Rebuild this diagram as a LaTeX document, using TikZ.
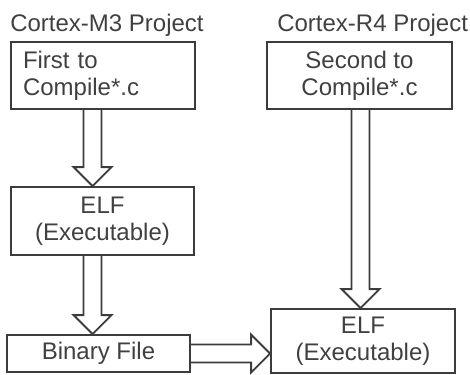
\documentclass[tikz,border=0pt]{standalone}
\usepackage{fontspec}
\setmainfont{Liberation Sans}
\usetikzlibrary{positioning, calc}
\definecolor{inkLine}{HTML}{3C3C3C}
\definecolor{inkText}{HTML}{404040}

\begin{document}
\begin{tikzpicture}[
  x=0.75pt, y=-0.75pt,
  title/.style={font=\fontsize{18}{20.25}\selectfont, text=inkText, inner sep=0pt},
  filebox/.style={draw=inkLine, line width=1.4pt, font=\fontsize{18}{20.25}\selectfont,
    text=inkText, inner sep=0pt, align=center},
  hollow/.style={draw=inkLine, line width=1.4pt, line join=miter}
]
  %% --- geometry of the hollow arrows ---
  \def\sh{6.75pt}   % half shaft width
  \def\hh{14.25pt}  % half head width
  \def\hl{14.25pt}  % head length

  \useasboundingbox (0,0) rectangle (470,374);

  %% --- project titles ---
  \node[title, anchor=base west] (m3title) at (10,32) {Cortex-M3 Project};
  \node[title, anchor=base west] (r4title) at (277,32) {Cortex-R4 Project};

  %% --- boxes ---
  \node[filebox, align=left, text width=120pt, inner xsep=9pt, minimum height=50.25pt]
    (m3src) at (103,75.5) {First to\\Compile*.c};
  \node[filebox, minimum width=137.25pt, minimum height=51pt]
    (m3elf) at (102.5,221) {ELF\\(Executable)};
  \node[filebox, minimum width=137.25pt, minimum height=27.75pt]
    (m3bin) at (98.5,353.5) {Binary File};
  \node[filebox, minimum width=138.75pt, minimum height=50.25pt]
    (r4src) at (359.5,75.5) {Second to\\Compile*.c};
  \node[filebox, minimum width=138pt, minimum height=48pt]
    (r4elf) at (363,341) {ELF\\(Executable)};

  %% --- arrow axes ---
  \coordinate (m3axis) at (92.5,0);
  \coordinate (r4axis) at (360.5,0);

  %% --- hollow arrows ---
  \draw[hollow] let \p1=(m3src.south -| m3axis), \p2=(m3elf.north -| m3axis) in
    (\x1-\sh,\y1) -- (\x1-\sh,\y2+\hl) -- (\x1-\hh,\y2+\hl) -- (\x2,\y2)
    -- (\x1+\hh,\y2+\hl) -- (\x1+\sh,\y2+\hl) -- (\x1+\sh,\y1);
  \draw[hollow] let \p1=(m3elf.south -| m3axis), \p2=(m3bin.north -| m3axis) in
    (\x1-\sh,\y1) -- (\x1-\sh,\y2+\hl) -- (\x1-\hh,\y2+\hl) -- (\x2,\y2)
    -- (\x1+\hh,\y2+\hl) -- (\x1+\sh,\y2+\hl) -- (\x1+\sh,\y1);
  \draw[hollow] let \p1=(r4src.south -| r4axis), \p2=(r4elf.north -| r4axis) in
    (\x1-\sh,\y1) -- (\x1-\sh,\y2+\hl) -- (\x1-\hh,\y2+\hl) -- (\x2,\y2)
    -- (\x1+\hh,\y2+\hl) -- (\x1+\sh,\y2+\hl) -- (\x1+\sh,\y1);
  \draw[hollow] let \p1=(m3bin.east), \p2=(r4elf.west |- m3bin.east) in
    (\x1,\y1+\sh) -- (\x2-\hl,\y1+\sh) -- (\x2-\hl,\y1+\hh) -- (\x2,\y1)
    -- (\x2-\hl,\y1-\hh) -- (\x2-\hl,\y1-\sh) -- (\x1,\y1-\sh);
\end{tikzpicture}
\end{document}
